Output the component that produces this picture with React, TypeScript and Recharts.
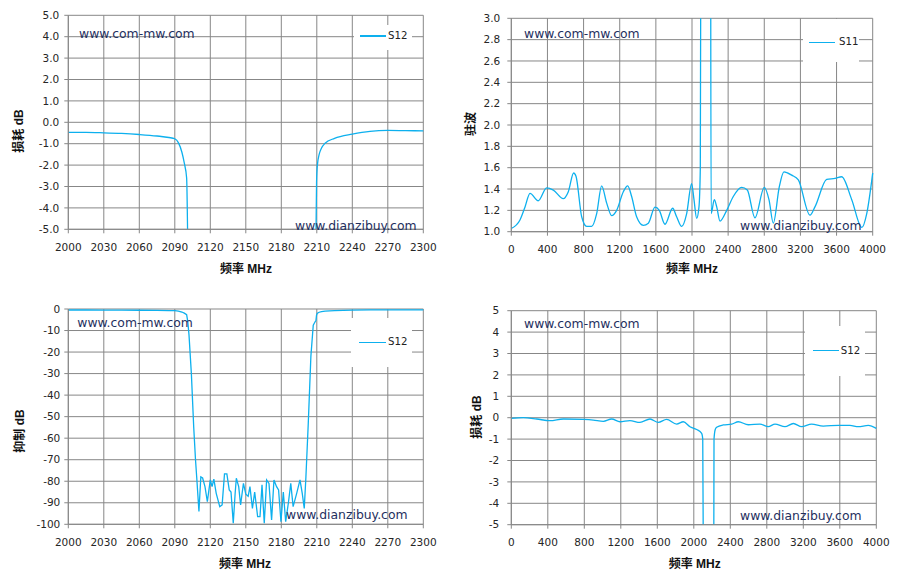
import React from "react";
import { CartesianGrid, Legend, Line, LineChart, XAxis, YAxis } from "recharts";

// narrow sweep 2000-2300 MHz, S12 in dB (used by the loss and the rejection panel)
const NB_FREQ = [
  2000, 2015, 2030, 2045, 2060, 2075, 2085, 2090, 2093, 2096, 2098, 2100, 2101, 2102, 2104, 2106,
  2107.5, 2108.5, 2110.4, 2112, 2113.5, 2115.5, 2117.5, 2120, 2121.5, 2123, 2125, 2128, 2130, 2132,
  2134, 2136, 2137.5, 2139.4, 2141, 2142, 2144, 2145.6, 2148, 2150, 2152, 2153.5, 2155.6, 2157.5,
  2160, 2162, 2163.7, 2165.6, 2167.6, 2169.6, 2171.8, 2173.8, 2176, 2177.7, 2179.7, 2181.7, 2183.7,
  2186, 2188, 2190, 2193, 2195.8, 2197.7, 2199.4, 2200.8, 2202.8, 2205, 2207, 2208, 2209.3, 2209.8,
  2210.5, 2212, 2214, 2217, 2225, 2240, 2255, 2270, 2285, 2300,
];
const NB_S12 = [
  -0.47, -0.47, -0.49, -0.52, -0.57, -0.64, -0.71, -0.77, -0.95, -1.4, -1.9, -2.6, -6, -12, -30, -55,
  -70, -78, -94, -78, -78.5, -82.5, -89.5, -79.4, -82.5, -79, -85.6, -91.8, -91, -76.6,
  -76.6, -84, -85, -99.5, -85.6, -78.6, -82.5, -91, -81, -86, -87, -82.5, -92.6, -85,
  -96.4, -96.4, -81.7, -99.5, -79.4, -81, -98, -79.4, -82.5, -84, -98.8, -85, -98.8,
  -90, -81, -91.8, -85.6, -79.4, -85.6, -92.6, -78, -53, -22, -7.5, -6.5, -5.2, -2.8,
  -2.0, -1.5, -1.2, -0.98, -0.75, -0.55, -0.42, -0.38, -0.39, -0.4,
];

// wide sweep 0-4000 MHz, S11 as VSWR
const S11_FREQ = [
  0, 96, 151, 207, 299, 391, 465, 575, 631, 690, 716, 779, 834, 889, 945, 1000, 1055, 1111, 1166,
  1240, 1288, 1332, 1387, 1461, 1517, 1590, 1638, 1701, 1786, 1830, 1886, 1941, 1996, 2022, 2052,
  2077, 2092, 2100, 2110, 2150, 2200, 2207, 2212, 2247, 2273, 2310, 2384, 2457, 2550, 2612, 2697,
  2800, 2852, 2900, 2966, 3018, 3103, 3177, 3306, 3362, 3491, 3583, 3657, 3768, 3880, 3934, 4000,
];
const S11_VSWR = [
  1.03, 1.11, 1.23, 1.36, 1.29, 1.41, 1.39, 1.31, 1.375, 1.55, 1.52, 1.14, 1.05, 1.05, 1.17, 1.43,
  1.27, 1.15, 1.2, 1.375, 1.43, 1.33, 1.14, 1.06, 1.08, 1.23, 1.2, 1.07, 1.22, 1.14, 1.05, 1.17,
  1.45, 1.3, 1.125, 1.23, 1.6, 4.5, 20, 30, 20, 3.5, 1.17, 1.3, 1.235, 1.1, 1.2, 1.33, 1.415, 1.39,
  1.13, 1.415, 1.3, 1.08, 1.42, 1.56, 1.53, 1.485, 1.155, 1.235, 1.49, 1.5, 1.515, 1.3, 1.04, 1.17,
  1.55,
];

// wide sweep 0-4000 MHz, S12 in dB
const WB_FREQ = [
  0, 131, 278, 424, 570, 789, 899, 1008, 1100, 1191, 1300, 1410, 1520, 1611, 1702, 1812, 1885, 1958,
  2031, 2086, 2098, 2104, 2110, 2150, 2215, 2219, 2221.5, 2235, 2250, 2323, 2415, 2488, 2597, 2725,
  2816, 2890, 2999, 3091, 3182, 3291, 3419, 3584, 3711, 3803, 3912, 4000,
];
const WB_S12 = [
  -0.03, 0, -0.06, -0.14, -0.06, -0.08, -0.11, -0.17, -0.06, -0.19, -0.14, -0.22, -0.06, -0.22,
  -0.08, -0.3, -0.19, -0.42, -0.55, -0.73, -1.0, -6, -60, -90, -60, -6, -1.0, -0.55, -0.45, -0.34,
  -0.3, -0.19, -0.33, -0.3, -0.42, -0.3, -0.42, -0.27, -0.42, -0.3, -0.39, -0.36, -0.36, -0.42,
  -0.36, -0.5,
];

const NB_TICKS = [2000, 2030, 2060, 2090, 2120, 2150, 2180, 2210, 2240, 2270, 2300];
const WB_TICKS = [0, 400, 800, 1200, 1600, 2000, 2400, 2800, 3200, 3600, 4000];
const LOSS_TICKS = [-5, -4, -3, -2, -1, 0, 1, 2, 3, 4, 5];
const VSWR_TICKS = [1.0, 1.2, 1.4, 1.6, 1.8, 2.0, 2.2, 2.4, 2.6, 2.8, 3.0];
const REJ_TICKS = [-100, -90, -80, -70, -60, -50, -40, -30, -20, -10, 0];

const X_TITLE = "频率 MHz";
const SITE_A = "www.com-mw.com";
const SITE_B = "www.dianzibuy.com";

const LINE = "#0db0ee";
const GRID = "#878787";
const W = 450;
const H = 290;

const toRows = (f: number[], v: number[]) => f.map((x, i) => ({ f: x, v: v[i] }));

const titleFont = {
  fontFamily: "'Liberation Sans', 'Noto Sans CJK SC', sans-serif",
  fontWeight: 700,
  fontSize: 12,
  color: "#111",
  whiteSpace: "nowrap" as const,
};
const siteFont = {
  fontFamily: "'DejaVu Sans', sans-serif",
  fontSize: 12.4,
  color: "#1f3060",
  whiteSpace: "nowrap" as const,
};

function Panel(p: any) {
  const { plot, box } = p;
  const tick = { fontSize: 10.5, fill: "#262626", fontFamily: "DejaVu Sans" };
  return (
    <div style={{ position: "absolute", left: p.left, top: p.top, width: W, height: H }}>
      <LineChart
        width={W}
        height={H}
        data={p.rows}
        margin={{ top: plot.t, right: W - plot.r, left: 0, bottom: 0 }}
      >
        <CartesianGrid stroke={GRID} />
        <XAxis
          type="number"
          dataKey="f"
          domain={p.xDomain}
          ticks={p.xTicks}
          interval={0}
          height={H - plot.b}
          tickSize={4}
          tickMargin={10}
          axisLine={{ stroke: GRID }}
          tickLine={{ stroke: GRID }}
          tick={tick}
        />
        <YAxis
          type="number"
          domain={p.yDomain}
          ticks={p.yTicks}
          interval={0}
          allowDataOverflow
          width={plot.l}
          tickSize={4}
          tickMargin={p.yGap}
          axisLine={{ stroke: GRID }}
          tickLine={{ stroke: GRID }}
          tick={tick}
          tickFormatter={p.yFmt}
        />
        <Legend
          layout="vertical"
          align="center"
          verticalAlign="middle"
          wrapperStyle={{ left: box.x, top: box.y, width: box.w, height: box.h, background: "#fff" }}
          content={() => (
            <div style={{ position: "relative", width: box.w, height: box.h }}>
              <div
                style={{
                  position: "absolute",
                  left: box.sx1 - box.x,
                  top: box.sy - box.y - 0.75,
                  width: box.sx2 - box.sx1,
                  height: 1.5,
                  background: LINE,
                }}
              />
              <span
                style={{
                  position: "absolute",
                  left: box.tx - box.x,
                  top: box.sy - box.y,
                  transform: "translateY(-50%)",
                  fontFamily: "DejaVu Sans",
                  fontSize: 10.2,
                  color: "#222",
                  lineHeight: 1,
                }}
              >
                {p.name}
              </span>
            </div>
          )}
        />
        <Line
          type={p.curve}
          dataKey="v"
          name={p.name}
          stroke={LINE}
          strokeWidth={1.3}
          dot={false}
          activeDot={false}
          isAnimationActive={false}
        />
      </LineChart>
      <div
        style={{
          ...titleFont,
          position: "absolute",
          left: p.yTitle[0],
          top: p.yTitle[1],
          transform: "translate(-50%, -50%) rotate(-90deg)",
        }}
      >
        {p.yLabel}
      </div>
      <div
        style={{
          ...titleFont,
          position: "absolute",
          left: p.xTitle[0],
          top: p.xTitle[1],
          transform: "translate(-50%, -50%)",
        }}
      >
        {X_TITLE}
      </div>
      <div style={{ ...siteFont, position: "absolute", left: p.siteA[0], top: p.siteA[1], transform: "translateY(-50%)" }}>
        {SITE_A}
      </div>
      <div style={{ ...siteFont, position: "absolute", left: p.siteB[0], top: p.siteB[1], transform: "translateY(-50%)" }}>
        {SITE_B}
      </div>
    </div>
  );
}

export default function App() {
  const nb = toRows(NB_FREQ, NB_S12);
  const s11 = toRows(S11_FREQ, S11_VSWR);
  const wb = toRows(WB_FREQ, WB_S12);
  return (
    <div style={{ position: "absolute", left: 0, top: 0, width: 900, height: 580, background: "#fff" }}>
      <Panel
        left={0}
        top={0}
        rows={nb}
        name="S12"
        curve="monotone"
        xDomain={[2000, 2300]}
        xTicks={NB_TICKS}
        yDomain={[-5, 5]}
        yTicks={LOSS_TICKS}
        yFmt={(v: number) => v.toFixed(1)}
        plot={{ l: 68.3, r: 423.3, t: 15.3, b: 229.3 }}
        yGap={5}
        box={{ x: 354, y: 25, w: 58, h: 25, sx1: 360, sx2: 386, sy: 36, tx: 388 }}
        yLabel="损耗 dB"
        yTitle={[17, 131]}
        xTitle={[246, 267]}
        siteA={[79, 33]}
        siteB={[295, 225]}
      />
      <Panel
        left={450}
        top={0}
        rows={s11}
        name="S11"
        curve="monotone"
        xDomain={[0, 4000]}
        xTicks={WB_TICKS}
        yDomain={[1, 3]}
        yTicks={VSWR_TICKS}
        yFmt={(v: number) => v.toFixed(1)}
        plot={{ l: 61.3, r: 422.7, t: 18.3, b: 231.7 }}
        yGap={7}
        box={{ x: 353, y: 19, w: 56, h: 43, sx1: 359, sx2: 385, sy: 42.3, tx: 389 }}
        yLabel="驻波"
        yTitle={[19.3, 123.5]}
        xTitle={[242, 267]}
        siteA={[74, 32.7]}
        siteB={[290, 225]}
      />
      <Panel
        left={0}
        top={290}
        rows={nb}
        name="S12"
        curve="linear"
        xDomain={[2000, 2300]}
        xTicks={NB_TICKS}
        yDomain={[-100, 0]}
        yTicks={REJ_TICKS}
        yFmt={(v: number) => String(v)}
        plot={{ l: 68.3, r: 423.3, t: 19, b: 234.3 }}
        yGap={4}
        box={{ x: 351, y: 28, w: 61, h: 49, sx1: 359.3, sx2: 386, sy: 52.3, tx: 388 }}
        yLabel="抑制 dB"
        yTitle={[17.5, 140.7]}
        xTitle={[245, 272]}
        siteA={[77.3, 31.7]}
        siteB={[286, 224.3]}
      />
      <Panel
        left={450}
        top={290}
        rows={wb}
        name="S12"
        curve="monotone"
        xDomain={[0, 4000]}
        xTicks={WB_TICKS}
        yDomain={[-5, 5]}
        yTicks={LOSS_TICKS}
        yFmt={(v: number) => String(v)}
        plot={{ l: 61.3, r: 426.3, t: 20.7, b: 234.7 }}
        yGap={8}
        box={{ x: 355, y: 36, w: 60, h: 50, sx1: 362.7, sx2: 389.3, sy: 60.7, tx: 390.7 }}
        yLabel="损耗 dB"
        yTitle={[25, 127]}
        xTitle={[244.7, 271.7]}
        siteA={[74, 32.7]}
        siteB={[290, 225]}
      />
    </div>
  );
}
